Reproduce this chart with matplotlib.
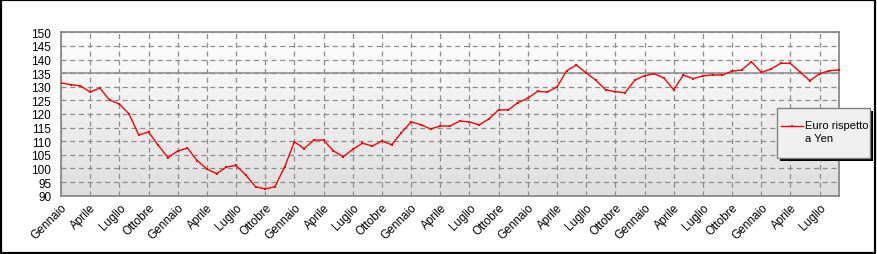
import numpy as np
import matplotlib
matplotlib.use('Agg')
import matplotlib.pyplot as plt
from matplotlib.patches import Rectangle
from matplotlib.lines import Line2D

### Monthly values, Gennaio of year 1 onwards
euro_yen = [131.4, 130.8, 130.3, 128.1, 129.5, 125.1, 123.7, 120.0, 112.3, 113.4, 108.5, 104.0,
            106.4, 107.5, 102.9, 99.8, 98.1, 100.5, 101.1, 97.6, 93.3, 92.5, 93.3, 100.6,
            109.8, 107.3, 110.4, 110.4, 106.5, 104.3, 107.0, 109.3, 108.2, 110.1, 108.7, 113.1,
            117.1, 116.1, 114.5, 115.6, 115.6, 117.4, 117.1, 116.0, 118.2, 121.5, 121.5, 124.2,
            125.8, 128.3, 128.1, 129.9, 135.9, 138.0, 135.1, 132.4, 128.9, 128.2, 127.8, 132.4,
            134.1, 134.8, 133.2, 128.9, 134.3, 133.0, 134.0, 134.4, 134.3, 135.7, 136.2, 139.2,
            135.3, 136.5, 138.6, 138.6, 135.4, 132.2, 134.8, 135.9, 136.2]
month_names = ['Gennaio', 'Aprile', 'Luglio', 'Ottobre']
y_ticks = list(range(90, 151, 5))
series_label = 'Euro rispetto\na Yen'

plt.rcParams['font.family'] = ['Liberation Sans', 'DejaVu Sans']

W, H = 878, 255
fig = plt.figure(figsize=(W / 100, H / 100), dpi=100)
ax = fig.add_axes([61 / W, 1 - 196.7 / H, 778 / W, 163.4 / H])

def fx(px):
    return px / W

def fy(py):
    return 1 - py / H

x = np.arange(len(euro_yen))

### background gradient
grad = np.linspace(1.0, 0.87, 256).reshape(-1, 1)
ax.imshow(np.dstack([grad, grad, grad]), extent=[0, len(x) - 1, 90, 150],
          aspect='auto', origin='upper', zorder=0)

ax.plot(x, euro_yen, color='#ff0000', lw=1, marker='s', ms=2, mew=0, zorder=3)

ax.set_xlim(0, len(x) - 1)
ax.set_ylim(90, 150)

tick_pos = list(range(0, len(x), 3))
ax.set_xticks(tick_pos)
ax.set_xticklabels([month_names[i % 4] for i in range(len(tick_pos))],
                   rotation=45, ha='right', va='top', rotation_mode='anchor', fontsize=8.5)
ax.set_yticks(y_ticks)
ax.set_yticklabels([str(v) for v in y_ticks], fontsize=8.5)
ax.tick_params(axis='y', length=0, pad=7)
ax.tick_params(axis='x', length=0, pad=4)

ax.grid(True, color='#8c8c8c', linestyle=(0, (4, 3)), lw=0.9, zorder=1)
ax.set_axisbelow(False)
ax.axhline(135, color='#8c8c8c', lw=1.1, zorder=2)

for s in ax.spines.values():
    s.set_color('#808080')
    s.set_linewidth(1.2)

### legend box drawn by hand (shadow, frame, handle, text)
lx0, ly0, lx1, ly1 = 777, 109, 870, 159
fig.patches.append(Rectangle((fx(lx0 + 3), fy(ly1 + 3)), fx(lx1 - lx0), (ly1 - ly0) / H,
                             transform=fig.transFigure, facecolor='black', edgecolor='none'))
fig.patches.append(Rectangle((fx(lx0), fy(ly1)), fx(lx1 - lx0), (ly1 - ly0) / H,
                             transform=fig.transFigure, facecolor='#f0f0f0',
                             edgecolor='#808080', lw=1))
fig.lines.append(Line2D([fx(781), fx(803)], [fy(127), fy(127)], transform=fig.transFigure,
                        color='#ff0000', lw=1))
fig.lines.append(Line2D([fx(792)], [fy(127)], transform=fig.transFigure, color='#ff0000',
                        marker='s', ms=2, mew=0))
fig.text(fx(805), fy(121.5), series_label, fontsize=8, ha='left', va='top',
         linespacing=1.35)

### outer frame
fig.patches.append(Rectangle((0.001, 0.004), 0.996, 0.992, transform=fig.transFigure,
                             fill=False, edgecolor='black', lw=1.6))

fig.savefig('out.png', dpi=100)
